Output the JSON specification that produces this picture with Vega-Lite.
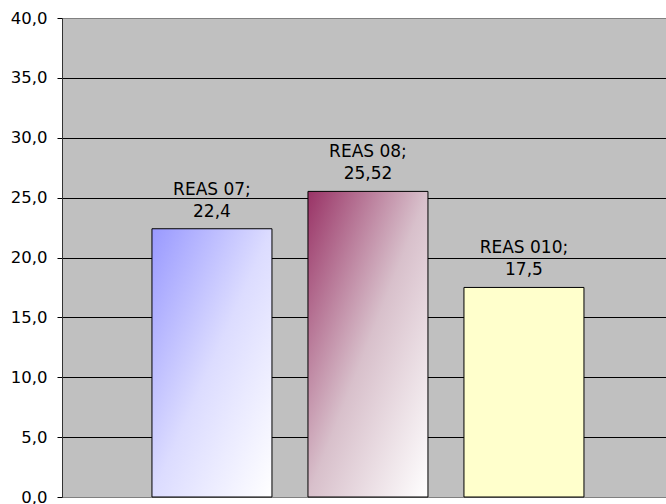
{
  "$schema": "https://vega.github.io/schema/vega-lite/v6.json",
  "width": 604,
  "height": 479,
  "autosize": "none",
  "padding": {"left": 62, "top": 18, "right": 0, "bottom": 7},
  "background": "white",
  "config": {
    "view": {"fill": "#C0C0C0", "stroke": "#808080", "strokeWidth": 1},
    "font": "DejaVu Sans"
  },
  "data": {
    "values": [
      {"serie": "REAS 07", "valor": 22.4, "rotulo": ["REAS 07;", "22,4"]},
      {"serie": "REAS 08", "valor": 25.52, "rotulo": ["REAS 08;", "25,52"]},
      {"serie": "REAS 010", "valor": 17.5, "rotulo": ["REAS 010;", "17,5"]}
    ]
  },
  "encoding": {
    "x": {
      "field": "serie",
      "type": "nominal",
      "sort": null,
      "scale": {"paddingInner": 0.2308, "paddingOuter": 0.5513, "align": 0.523},
      "axis": null
    },
    "y": {
      "field": "valor",
      "type": "quantitative",
      "scale": {"domain": [0, 40], "nice": false},
      "axis": {
        "title": null,
        "values": [0, 5, 10, 15, 20, 25, 30, 35, 40],
        "labelExpr": "replace(format(datum.value, '.1f'), '.', ',')",
        "labelFont": "DejaVu Sans",
        "labelFontSize": 16.5,
        "labelColor": "#000000",
        "labelPadding": 10,
        "tickSize": 5,
        "tickColor": "#000000",
        "domainColor": "#333333",
        "domainWidth": 1,
        "grid": true,
        "gridColor": {"condition": {"test": "datum.value === 40 || datum.value === 0", "value": "#808080"}, "value": "#000000"},
        "gridOpacity": 1,
        "gridWidth": 1
      }
    }
  },
  "layer": [
    {
      "transform": [{"filter": "datum.serie === 'REAS 07'"}],
      "mark": {
        "type": "bar",
        "stroke": "#000000",
        "strokeWidth": 1,
        "fill": {
          "gradient": "linear",
          "x1": 0, "y1": 0, "x2": 1, "y2": 1,
          "stops": [
            {"offset": 0, "color": "#9999FF"},
            {"offset": 0.5, "color": "#DCDCFF"},
            {"offset": 1, "color": "#FFFFFF"}
          ]
        }
      }
    },
    {
      "transform": [{"filter": "datum.serie === 'REAS 08'"}],
      "mark": {
        "type": "bar",
        "stroke": "#000000",
        "strokeWidth": 1,
        "fill": {
          "gradient": "linear",
          "x1": 0, "y1": 0, "x2": 1, "y2": 1,
          "stops": [
            {"offset": 0, "color": "#993366"},
            {"offset": 0.5, "color": "#D8C0CB"},
            {"offset": 1, "color": "#FFFFFF"}
          ]
        }
      }
    },
    {
      "transform": [{"filter": "datum.serie === 'REAS 010'"}],
      "mark": {"type": "bar", "stroke": "#000000", "strokeWidth": 1, "fill": "#FFFFCC"}
    },
    {
      "mark": {
        "type": "text",
        "font": "DejaVu Sans",
        "fontSize": 17,
        "color": "#000000",
        "baseline": "alphabetic",
        "align": "center",
        "lineHeight": 22,
        "dy": -34
      },
      "encoding": {"text": {"field": "rotulo"}}
    }
  ]
}
